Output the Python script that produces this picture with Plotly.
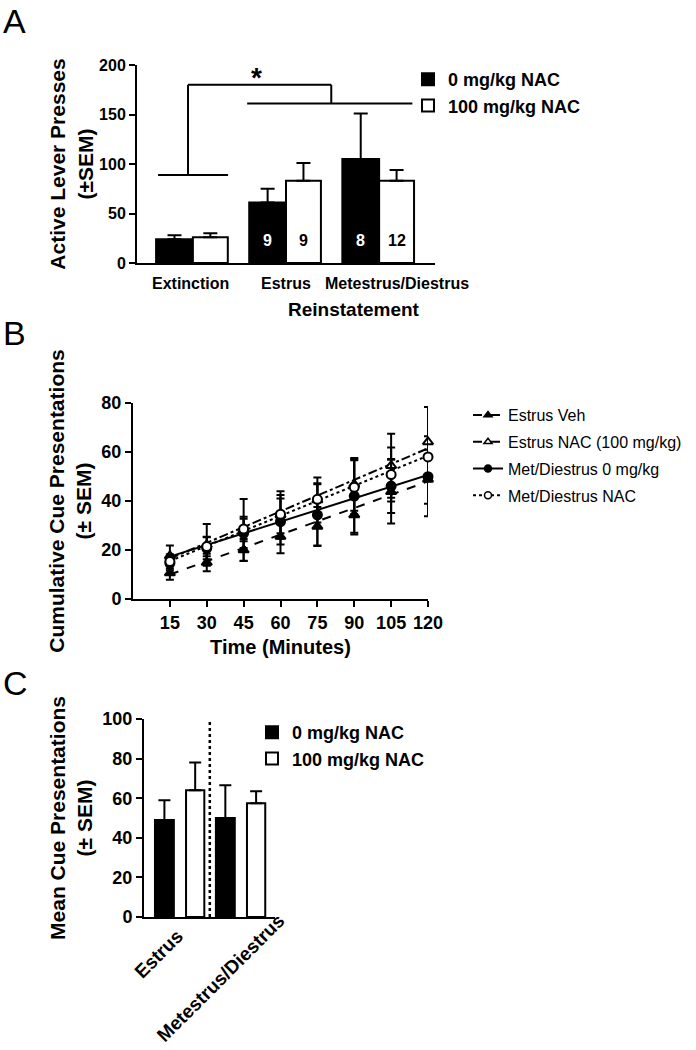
import plotly.graph_objects as go

W, H = 696, 1050

# panel A - active lever presses
a_categories = ["Extinction", "Estrus", "Metestrus/Diestrus"]
a_0mg = [24, 61, 105]
a_0mg_sem = [4, 14, 46]
a_100mg = [26, 83, 83]
a_100mg_sem = [4, 18, 11]
a_n_0mg = ["", "9", "8"]
a_n_100mg = ["", "9", "12"]

# panel B - cumulative cue presentations
b_minutes = [15, 30, 45, 60, 75, 90, 105, 120]
b_estrus_veh = [10.6, 14.9, 20, 25.5, 29.6, 34.3, 43.8, 48.8]
b_estrus_veh_sem = [2.7, 3.6, 4.5, 6.8, 8, 8, 13, 15]
b_estrus_nac = [17.6, 22.1, 28.2, 34.3, 40.4, 46.8, 54.4, 64.1]
b_estrus_nac_sem = [4.2, 8.5, 12.6, 9.7, 9.2, 10.8, 13.1, 14.3]
b_met_0 = [14.6, 20.7, 26.8, 31.6, 34.3, 42, 46.1, 49.9]
b_met_0_sem = [3, 4.5, 6, 9.4, 12.5, 15, 11, 11]
b_met_nac = [15.3, 21.4, 28.6, 34.6, 40.7, 45.6, 50.8, 58]
b_met_nac_sem = [3, 4, 5, 7.8, 6.5, 11, 11, 8.4]

# regression lines (start, end)
b_fit_x = [15, 120]
b_fit_estrus_veh = [10, 48]
b_fit_estrus_nac = [16.5, 61.5]
b_fit_met_0 = [17.3, 50.6]
b_fit_met_nac = [15.5, 58.5]

# panel C - mean cue presentations
c_categories = ["Estrus", "Metestrus/Diestrus"]
c_0mg = [49, 50]
c_0mg_sem = [10, 16.5]
c_100mg = [64, 57.5]
c_100mg_sem = [14, 6]


def fx(p):
    return p / W


def fy(p):
    return 1 - p / H


FONT = "Liberation Sans, Arial, sans-serif"
BOLD = dict(family=FONT, color="black", weight="bold")

fig = go.Figure()

# ---- A
fig.add_trace(go.Bar(
    x=a_categories, y=a_0mg, name="0 mg/kg NAC", width=0.395, offset=-0.395,
    marker=dict(color="black", line=dict(color="black", width=2)),
    error_y=dict(type="data", array=a_0mg_sem, arrayminus=[0] * 3, symmetric=False,
                 color="black", thickness=2, width=7),
    xaxis="x", yaxis="y", legend="legend"))
fig.add_trace(go.Bar(
    x=a_categories, y=a_100mg, name="100 mg/kg NAC", width=0.375, offset=0,
    marker=dict(color="white", line=dict(color="black", width=2)),
    error_y=dict(type="data", array=a_100mg_sem, arrayminus=[0] * 3, symmetric=False,
                 color="black", thickness=2, width=7),
    xaxis="x", yaxis="y", legend="legend"))

# ---- B
groups = [
    ("Estrus Veh", b_estrus_veh, b_estrus_veh_sem, b_fit_estrus_veh, "triangle-up", "black", "dash"),
    ("Estrus NAC (100 mg/kg)", b_estrus_nac, b_estrus_nac_sem, b_fit_estrus_nac, "triangle-up", "white", "dashdot"),
    ("Met/Diestrus 0 mg/kg", b_met_0, b_met_0_sem, b_fit_met_0, "circle", "black", "solid"),
    ("Met/Diestrus NAC", b_met_nac, b_met_nac_sem, b_fit_met_nac, "circle", "white", "dot"),
]
for name, vals, sem, fit, sym, fill, dash in groups:
    fig.add_trace(go.Scatter(
        x=b_fit_x, y=fit, mode="lines", line=dict(color="black", width=2, dash=dash),
        showlegend=False, xaxis="x2", yaxis="y2", hoverinfo="skip", cliponaxis=False))
for name, vals, sem, fit, sym, fill, dash in groups:
    fig.add_trace(go.Scatter(
        x=b_minutes, y=vals, mode="markers", cliponaxis=False,
        marker=dict(symbol=sym, size=9, color=fill, line=dict(color="black", width=2)),
        error_y=dict(type="data", array=sem, color="black", thickness=2, width=4),
        showlegend=False, xaxis="x2", yaxis="y2"))
for i, (name, vals, sem, fit, sym, fill, dash) in enumerate(groups):
    fig.add_trace(go.Scatter(
        x=[None], y=[None], mode="lines+markers", name=name,
        marker=dict(symbol=sym, size=7, color=fill, line=dict(color="black", width=1.5)),
        line=dict(color="black", width=2, dash=dash),
        legendgroup="b%d" % i, xaxis="x2", yaxis="y2", legend="legend2"))

# ---- C
fig.add_trace(go.Bar(
    x=c_categories, y=c_0mg, name="0 mg/kg NAC", width=0.31, offset=-0.40,
    marker=dict(color="black", line=dict(color="black", width=2)),
    error_y=dict(type="data", array=c_0mg_sem, arrayminus=[0] * 2, symmetric=False,
                 color="black", thickness=2, width=6),
    xaxis="x3", yaxis="y3", legend="legend3"))
fig.add_trace(go.Bar(
    x=c_categories, y=c_100mg, name="100 mg/kg NAC", width=0.30, offset=0.11,
    marker=dict(color="white", line=dict(color="black", width=2)),
    error_y=dict(type="data", array=c_100mg_sem, arrayminus=[0] * 2, symmetric=False,
                 color="black", thickness=2, width=6),
    xaxis="x3", yaxis="y3", legend="legend3"))

axis_common = dict(showline=True, linewidth=2, linecolor="black", showgrid=False,
                   zeroline=False, automargin=False, ticks="outside", ticklen=6,
                   tickwidth=2, tickcolor="black")

fig.update_layout(
    width=W, height=H, margin=dict(l=0, r=0, t=0, b=0),
    paper_bgcolor="white", plot_bgcolor="white",
    font=dict(family=FONT, color="black"),
    barmode="group", showlegend=True,
    xaxis=dict(axis_common, domain=[fx(137), fx(435)], anchor="y", type="category",
               range=[-0.6, 2.6], ticks="", showticklabels=False),
    yaxis=dict(axis_common, domain=[fy(263), fy(65)], anchor="x", range=[0, 200],
               tickvals=[0, 50, 100, 150, 200], tickfont=dict(BOLD, size=16),
               title=dict(text="Active Lever Presses<br>(±SEM)", font=dict(BOLD, size=21),
                          standoff=0)),
    xaxis2=dict(axis_common, domain=[fx(133), fx(428)], anchor="y2", range=[0, 120],
                tickvals=b_minutes, tickfont=dict(BOLD, size=18),
                title=dict(text="Time (Minutes)", font=dict(BOLD, size=20), standoff=8)),
    yaxis2=dict(axis_common, domain=[fy(599), fy(403)], anchor="x2", range=[0, 80],
                dtick=20, tickfont=dict(BOLD, size=18),
                title=dict(text="Cumulative Cue Presentations<br>(± SEM)",
                           font=dict(BOLD, size=21), standoff=4)),
    xaxis3=dict(axis_common, domain=[fx(144), fx(275)], anchor="y3", type="category",
                range=[-0.58, 1.57], ticks="", showticklabels=False),
    yaxis3=dict(axis_common, domain=[fy(917), fy(719)], anchor="x3", range=[0, 100],
                dtick=20, tickfont=dict(BOLD, size=18),
                title=dict(text="Mean Cue Presentations<br>(± SEM)",
                           font=dict(BOLD, size=21), standoff=4)),
    legend=dict(x=fx(408), y=fy(61), xanchor="left", yanchor="top",
                font=dict(BOLD, size=18), bgcolor="rgba(0,0,0,0)", traceorder="normal"),
    legend2=dict(x=fx(468), y=fy(398), xanchor="left", yanchor="top",
                 font=dict(family=FONT, color="black", size=16), bgcolor="rgba(0,0,0,0)",
                 traceorder="grouped", tracegroupgap=3),
    legend3=dict(x=fx(252), y=fy(714), xanchor="left", yanchor="top",
                 font=dict(BOLD, size=18), bgcolor="rgba(0,0,0,0)", traceorder="normal"),
)

# category labels of panel A (GraphPad nudged the last one right)
for label, cx in zip(a_categories, [190, 286, 397]):
    fig.add_annotation(xref="paper", yref="paper", x=fx(cx), y=fy(283), text=label,
                       xanchor="center", yanchor="middle", showarrow=False,
                       font=dict(BOLD, size=16))

# significance brackets in panel A
bracket = [(-0.374, 89, 0.378, 89), (-0.052, 89, -0.052, 180), (-0.052, 180, 1.486, 180),
           (1.486, 180, 1.486, 161), (0.583, 161, 2.357, 161)]
for x0, y0, x1, y1 in bracket:
    fig.add_shape(type="line", xref="x", yref="y", x0=x0, y0=y0, x1=x1, y1=y1,
                  line=dict(color="black", width=2))
fig.add_annotation(xref="x", yref="y", x=0.68, y=187, text="*", showarrow=False,
                   font=dict(BOLD, size=28))

# n per group inside bars
for i in range(len(a_categories)):
    if a_n_0mg[i]:
        fig.add_annotation(xref="x", yref="y", x=i - 0.395 / 2, y=23, text=a_n_0mg[i],
                           showarrow=False, font=dict(BOLD, size=16, color="white"))
    if a_n_100mg[i]:
        fig.add_annotation(xref="x", yref="y", x=i + 0.375 / 2, y=23, text=a_n_100mg[i],
                           showarrow=False, font=dict(BOLD, size=16))

fig.add_annotation(xref="paper", yref="paper", x=fx(354), y=fy(309), text="Reinstatement",
                   xanchor="center", yanchor="middle", showarrow=False,
                   font=dict(BOLD, size=19))

# divider in panel C
fig.add_shape(type="line", xref="x3", yref="y3", x0=0.5, x1=0.5, y0=0, y1=103,
              line=dict(color="black", width=2.5, dash="dot"))

# rotated category labels for panel C
for label, cx, cy in [(c_categories[0], 158, 954), (c_categories[1], 220, 978)]:
    fig.add_annotation(xref="paper", yref="paper", x=fx(cx), y=fy(cy), text=label,
                       xanchor="center", yanchor="middle", textangle=-45,
                       showarrow=False, font=dict(BOLD, size=19), borderpad=0)

# panel letters
for letter, top in [("A", 0), ("B", 312), ("C", 662)]:
    fig.add_annotation(xref="paper", yref="paper", x=fx(1), y=fy(top), text=letter,
                       xanchor="left", yanchor="top", showarrow=False,
                       font=dict(family=FONT, color="black", size=34))

fig.write_html("out.html", config={"displayModeBar": False},
               post_script="document.body.style.margin='0px';")
